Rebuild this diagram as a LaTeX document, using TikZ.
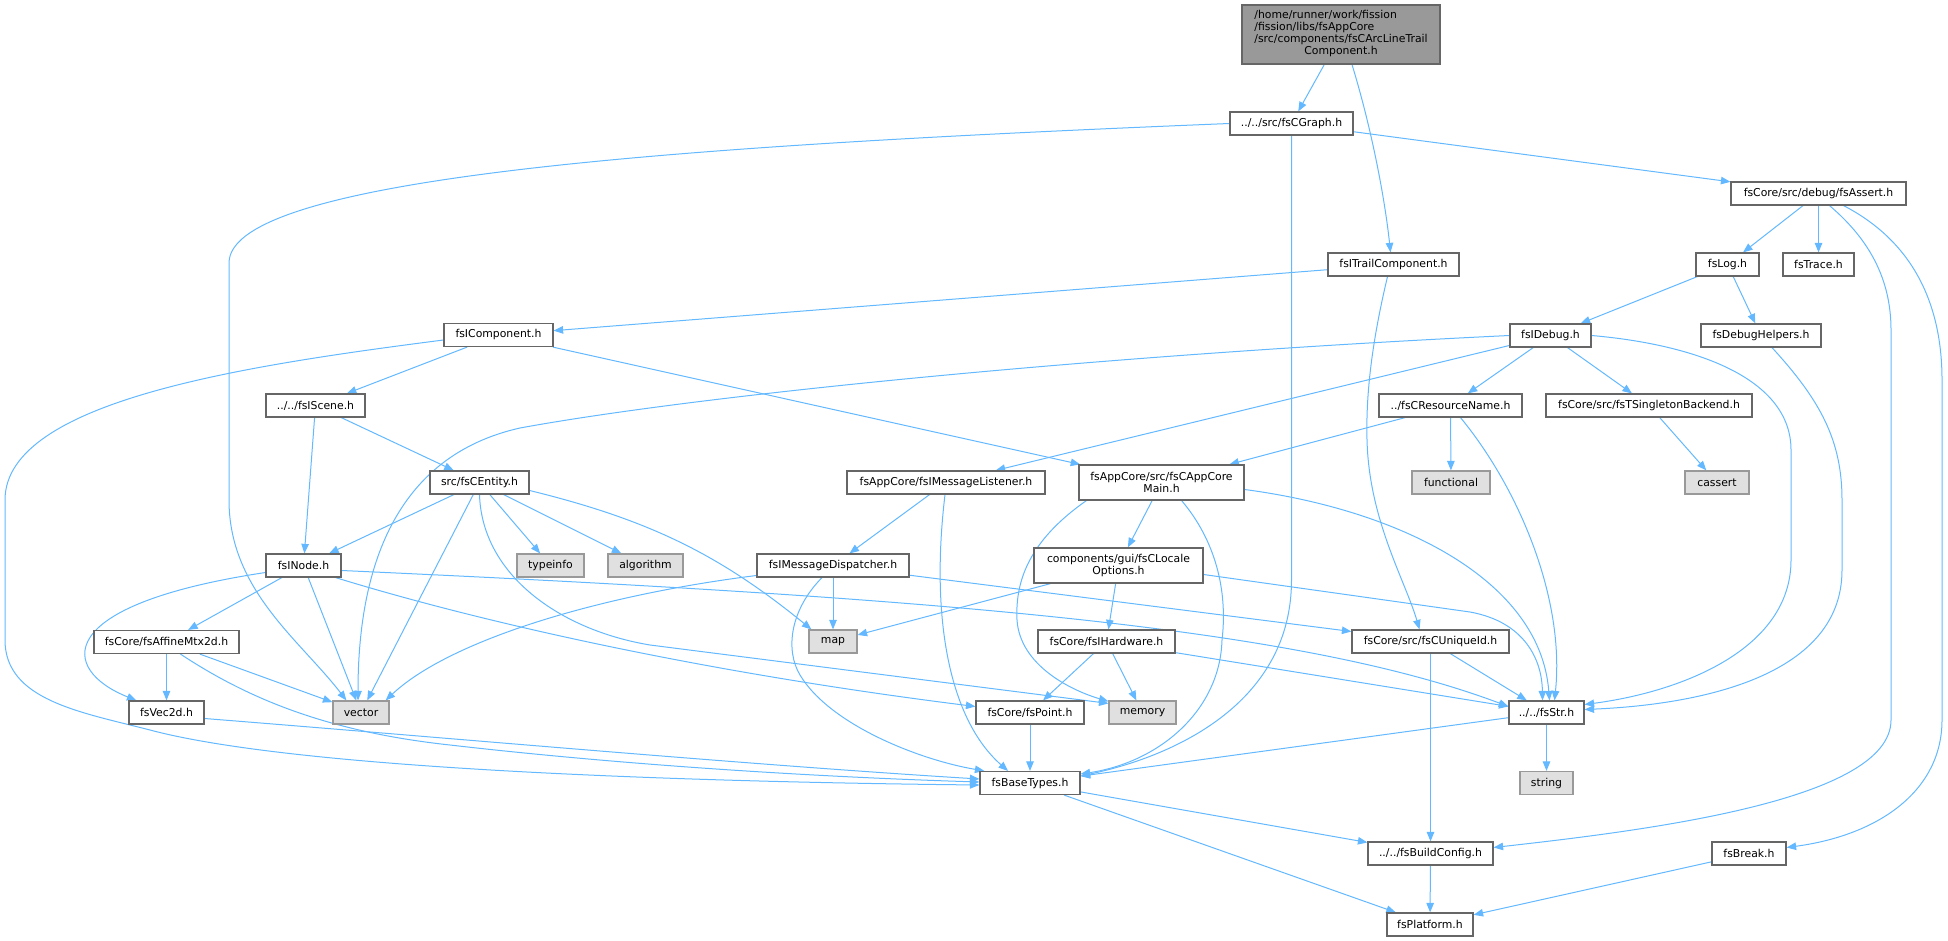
\documentclass[tikz,border=0pt]{standalone}
\usepackage{fontspec}
\setmainfont{DejaVu Sans}
\usetikzlibrary{arrows.meta,calc}
\definecolor{edgec}{HTML}{63B8FF}
\definecolor{bord}{HTML}{666666}
\definecolor{extb}{HTML}{999999}
\definecolor{extf}{HTML}{E0E0E0}
\definecolor{mainf}{HTML}{999999}
\pgfdeclarelayer{bg}
\pgfsetlayers{bg,main}
\newcommand\dfont{\fontsize{10.85}{12}\selectfont}
\tikzset{
  nbox/.style={draw=bord, fill=white, line width=1.2pt, minimum height=23pt, inner sep=0pt, font=\dfont, align=center},
  extbox/.style={nbox, draw=extb, fill=extf},
  rootbox/.style={nbox, fill=mainf},
  edge/.style={draw=edgec, line width=1pt, -{Triangle[length=9.5pt,width=7.5pt]}},
}
\begin{document}
\begin{tikzpicture}[x=1pt,y=-1pt]
\useasboundingbox (0,0) rectangle (1948,941);
% nodes
\node[rootbox, minimum width=198pt, minimum height=59pt] (main) at (1341,34.5)
  {\begin{tabular}{@{}l@{}}/home/runner/work/fission\\/fission/libs/fsAppCore\\/src/components/fsCArcLineTrail\\\multicolumn{1}{@{}c@{}}{Component.h}\end{tabular}};
\node[nbox, minimum width=123pt] (cgraph) at (1291.5,123.5) {../../src/fsCGraph.h};
\node[nbox, minimum width=131pt] (trail) at (1393.5,264.5) {fsITrailComponent.h};
\node[nbox, minimum width=175pt] (assert) at (1818.5,193.5) {fsCore/src/debug/fsAssert.h};
\node[nbox, minimum width=63pt] (log) at (1727.5,264.5) {fsLog.h};
\node[nbox, minimum width=71pt] (trace) at (1818.5,264.5) {fsTrace.h};
\node[nbox, minimum width=81pt] (idebug) at (1550.5,335.5) {fsIDebug.h};
\node[nbox, minimum width=120pt] (dhelp) at (1761,335.5) {fsDebugHelpers.h};
\node[nbox, minimum width=143pt] (resname) at (1450.5,405.5) {../fsCResourceName.h};
\node[nbox, minimum width=206pt] (singleton) at (1649,405.5) {fsCore/src/fsTSingletonBackend.h};
\node[extbox, minimum width=78pt] (functional) at (1451,482.5) {functional};
\node[extbox, minimum width=64pt] (cassert) at (1717,482.5) {cassert};
\node[nbox, minimum width=157pt] (uniqueid) at (1430.5,641.5) {fsCore/src/fsCUniqueId.h};
\node[nbox, minimum width=75pt] (str) at (1546.5,712.5) {../../fsStr.h};
\node[extbox, minimum width=53pt] (string) at (1546.5,783) {string};
\node[nbox, minimum width=125pt] (buildcfg) at (1430.5,853.5) {../../fsBuildConfig.h};
\node[nbox, minimum width=74pt] (brk) at (1749,853.5) {fsBreak.h};
\node[nbox, minimum width=86pt] (platform) at (1430,924.5) {fsPlatform.h};
\node[nbox, minimum width=109pt] (icomp) at (498.5,335) {fsIComponent.h};
\node[nbox, minimum width=99pt] (iscene) at (315.5,405.5) {../../fsIScene.h};
\node[nbox, minimum width=99pt] (entity) at (479.5,482.5) {src/fsCEntity.h};
\node[nbox, minimum width=75pt] (inode) at (303.5,565.5) {fsINode.h};
\node[extbox, minimum width=67pt] (typeinfo) at (550.5,565.5) {typeinfo};
\node[extbox, minimum width=75pt] (algorithm) at (645.5,565.5) {algorithm};
\node[nbox, minimum width=145pt] (affine) at (166.5,642) {fsCore/fsAffineMtx2d.h};
\node[nbox, minimum width=75pt] (vec2d) at (166.5,712.5) {fsVec2d.h};
\node[extbox, minimum width=56pt] (vector) at (361,712.5) {vector};
\node[nbox, minimum width=198pt] (msglist) at (946,482.5) {fsAppCore/fsIMessageListener.h};
\node[nbox, minimum width=165pt, minimum height=35pt] (appmain) at (1161.5,482.5) {fsAppCore/src/fsCAppCore\\Main.h};
\node[nbox, minimum width=152pt] (msgdisp) at (833,565.5) {fsIMessageDispatcher.h};
\node[nbox, minimum width=169pt, minimum height=35pt] (locale) at (1118.5,565.5) {components/gui/fsCLocale\\Options.h};
\node[extbox, minimum width=48pt] (map) at (833,641.5) {map};
\node[nbox, minimum width=137pt] (hw) at (1106.5,641.5) {fsCore/fsIHardware.h};
\node[nbox, minimum width=108pt] (point) at (1030,712.5) {fsCore/fsPoint.h};
\node[extbox, minimum width=67pt] (memory) at (1142.5,712.5) {memory};
\node[nbox, minimum width=100pt] (basetypes) at (1030,783) {fsBaseTypes.h};
% edges
\begin{pgfonlayer}{bg}
\draw[edge] (main) -- (cgraph);
\draw[edge] ($(main.south)+(11,0)$) .. controls (1372,130) and (1385,200) .. ($(trail.north)+(-3,0)$);
\draw[edge] (cgraph.west) .. controls (700,145) and (229,175) .. (229,263) -- (229,500) .. controls (229,590) and (300,640) .. ($(vector.north west)+(14,0)$);
\draw[edge] (cgraph.south) -- (1291.5,580) .. controls (1291.5,700) and (1180,755) .. ($(basetypes.east)+(0,-7)$);
\draw[edge] (cgraph) -- (assert);
\draw[edge] (trail) -- (icomp);
\draw[edge] ($(trail.south)+(-6,0)$) .. controls (1370,350) and (1366,400) .. (1367,440) .. controls (1369,520) and (1405,580) .. ($(uniqueid.north)+(-11,0)$);
\draw[edge] (assert) -- (log);
\draw[edge] (assert) -- (trace);
\draw[edge] ($(assert.south)+(11,0)$) .. controls (1870,240) and (1891,280) .. (1891,330) -- (1891,720) .. controls (1891,800) and (1650,830) .. ($(buildcfg.east)+(0,-6)$);
\draw[edge] ($(assert.south)+(25,0)$) .. controls (1910,240) and (1942,300) .. (1942,380) -- (1942,720) .. controls (1942,790) and (1880,835) .. ($(brk.east)+(0,-6)$);
\draw[edge] (log) -- (idebug);
\draw[edge] (log) -- (dhelp);
\draw[edge] (idebug.west) .. controls (1100,355) and (700,395) .. (520,428) .. controls (400,455) and (358,560) .. ($(vector.north)+(-3,0)$);
\draw[edge] (idebug) -- (msglist);
\draw[edge] (idebug) -- (resname);
\draw[edge] (idebug) -- (singleton);
\draw[edge] (idebug.east) .. controls (1700,345) and (1791,380) .. (1791,450) -- (1791,560) .. controls (1791,650) and (1680,692) .. ($(str.east)+(0,-8)$);
\draw[edge] ($(dhelp.south)+(11,0)$) .. controls (1820,400) and (1842,440) .. (1842,500) -- (1842,570) .. controls (1842,680) and (1690,705) .. ($(str.east)+(0,-3)$);
\draw[edge] (resname) -- (appmain);
\draw[edge] (resname) -- (functional);
\draw[edge] ($(resname.south)+(10,0)$) .. controls (1520,490) and (1565,600) .. ($(str.north)+(8,0)$);
\draw[edge] (singleton) -- (cassert);
\draw[edge] ($(icomp.west)+(0,5)$) .. controls (250,365) and (5,400) .. (5,500) -- (5,640) .. controls (5,700) and (80,712) .. (150,730) .. controls (300,770) and (700,782) .. ($(basetypes.west)+(0,2)$);
\draw[edge] (icomp) -- (iscene);
\draw[edge] (icomp) -- (appmain);
\draw[edge] (iscene) -- (inode);
\draw[edge] (iscene) -- (entity);
\draw[edge] (entity) -- (inode);
\draw[edge] (entity) -- (vector);
\draw[edge] (entity) -- (typeinfo);
\draw[edge] (entity) -- (algorithm);
\draw[edge] (entity.south) .. controls (482,575) and (560,630) .. (650,645) -- ($(memory.north west)+(0,3)$);
\draw[edge] ($(entity.east)+(0,8)$) .. controls (650,520) and (720,555) .. ($(map.north west)+(3,0)$);
\draw[edge] (inode) -- (affine);
\draw[edge] ($(inode.west)+(0,7)$) .. controls (50,605) and (60,670) .. ($(vec2d.north west)+(8,0)$);
\draw[edge] (inode) -- (vector);
\draw[edge] ($(inode.south east)+(-6,0)$) .. controls (480,622) and (700,672) .. ($(point.west)+(0,-6)$);
\draw[edge] ($(inode.east)+(0,5)$) .. controls (950,598) and (1300,628) .. ($(str.west)+(0,-6)$);
\draw[edge] (affine) -- (vec2d);
\draw[edge] (affine) -- (vector);
\draw[edge] ($(affine.south)+(14,0)$) .. controls (250,700) and (330,732) .. (450,745) .. controls (650,768) and (850,778) .. ($(basetypes.west)+(0,-1)$);
\draw[edge] ($(vec2d.east)+(0,6)$) .. controls (450,738) and (750,765) .. ($(basetypes.west)+(0,-4)$);
\draw[edge] (msglist) -- (msgdisp);
\draw[edge] ($(msglist.south)+(-1,0)$) .. controls (930,620) and (950,720) .. ($(basetypes.north)+(-22,0)$);
\draw[edge] (msgdisp) -- (map);
\draw[edge] ($(msgdisp.west)+(0,10)$) .. controls (600,595) and (450,640) .. ($(vector.north east)+(-4,0)$);
\draw[edge] ($(msgdisp.south)+(-11,0)$) .. controls (790,610) and (785,650) .. (800,675) .. controls (830,725) and (920,760) .. ($(basetypes.north west)+(5,0)$);
\draw[edge] (msgdisp) -- (uniqueid);
\draw[edge] (appmain) -- (locale);
\draw[edge] ($(appmain.south west)+(8,0)$) .. controls (1030,540) and (1015,580) .. (1017,620) .. controls (1020,665) and (1070,690) .. ($(memory.north west)+(0,1)$);
\draw[edge] ($(appmain.south east)+(-63,0)$) .. controls (1215,540) and (1228,590) .. (1222,640) .. controls (1220,710) and (1160,762) .. ($(basetypes.east)+(0,-9)$);
\draw[edge] ($(appmain.east)+(0,7)$) .. controls (1400,510) and (1540,580) .. ($(str.north)+(3,0)$);
\draw[edge] (locale) -- (map);
\draw[edge] (locale) -- (hw);
\draw[edge] ($(locale.east)+(0,9)$) -- (1470,612) .. controls (1525,622) and (1542,660) .. ($(str.north)+(-4,0)$);
\draw[edge] (hw) -- (point);
\draw[edge] (hw) -- (memory);
\draw[edge] (hw) -- (str);
\draw[edge] (point) -- (basetypes);
\draw[edge] (uniqueid) -- (str);
\draw[edge] (uniqueid) -- (buildcfg);
\draw[edge] (str) -- (basetypes);
\draw[edge] (str) -- (string);
\draw[edge] (basetypes) -- (buildcfg);
\draw[edge] (basetypes) -- (platform);
\draw[edge] (buildcfg) -- (platform);
\draw[edge] (brk) -- (platform);
\end{pgfonlayer}
\end{tikzpicture}
\end{document}
